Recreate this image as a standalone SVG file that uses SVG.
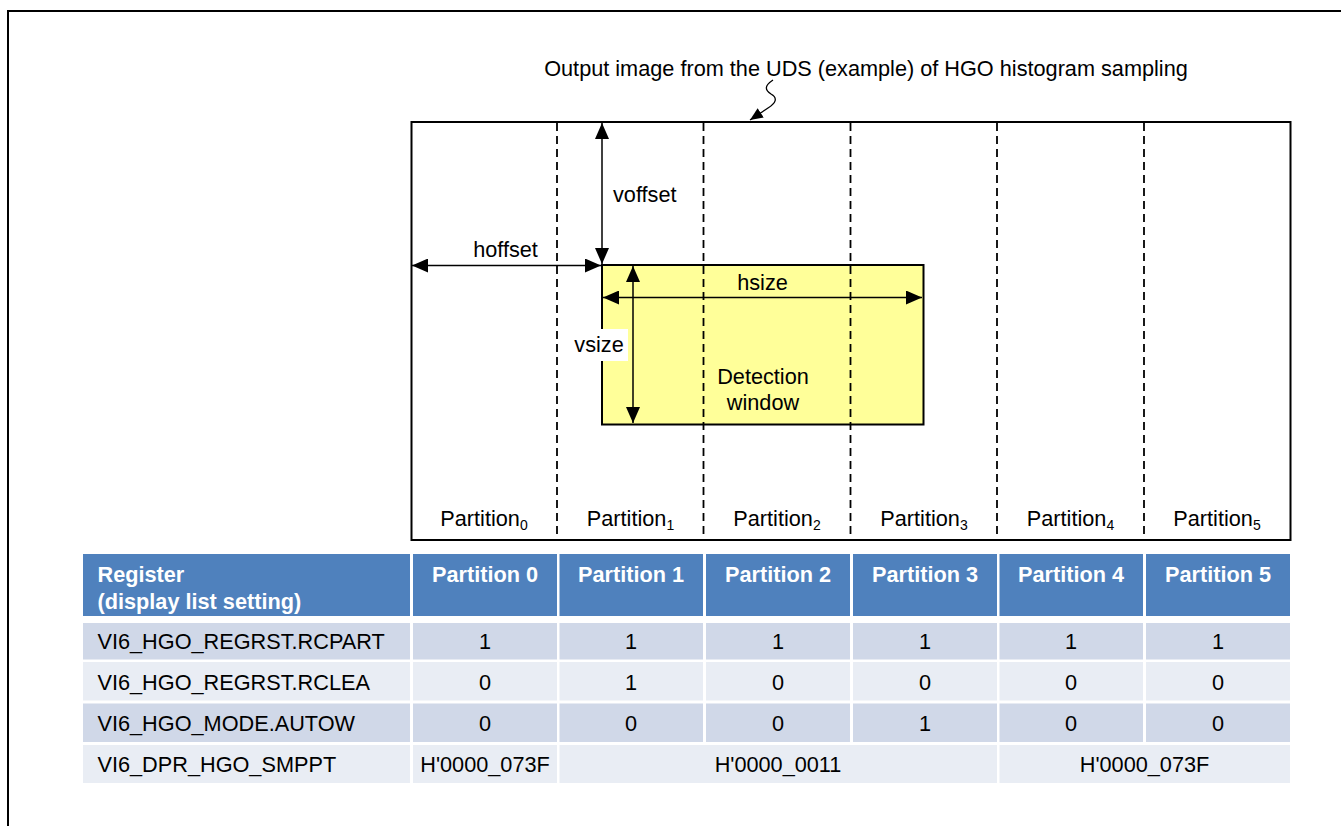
<svg xmlns="http://www.w3.org/2000/svg" width="1341" height="826" viewBox="0 0 1341 826">
<style>
text{font-family:"Liberation Sans",Arial,sans-serif;font-size:21.7px;fill:#000}
.b{font-weight:bold;fill:#fff}
.m{text-anchor:middle}
.dash{stroke:#000;stroke-width:1.8;stroke-dasharray:8,5;fill:none}
.arr{stroke:#000;stroke-width:1.5;fill:none;marker-start:url(#ah);marker-end:url(#ah)}
.hd{fill:#4F81BD}
.r1{fill:#D0D8E8}
.r2{fill:#E9EDF4}
.sub{font-size:14px}
</style>
<defs>
<marker id="ah" viewBox="0 0 16 14" refX="16" refY="7" markerWidth="16" markerHeight="14" markerUnits="userSpaceOnUse" orient="auto-start-reverse">
<path d="M0,0 L16,7 L0,14 Z" fill="#000"/>
</marker>
<marker id="ah2" viewBox="0 0 14 12" refX="14" refY="6" markerWidth="13" markerHeight="11" markerUnits="userSpaceOnUse" orient="auto">
<path d="M0,0 L14,6 L0,12 Z" fill="#000"/>
</marker>
</defs>
<rect width="1341" height="826" fill="#fff"/>
<path d="M8,826 V11 H1341" fill="none" stroke="#000" stroke-width="2"/>

<g id="title">
<text x="866" y="76" class="m">Output image from the UDS (example) of HGO histogram sampling</text>
</g>

<g id="image">
<rect x="411.5" y="122" width="879" height="418" fill="#fff" stroke="#000" stroke-width="2"/>
</g>

<g id="detection-window">
<rect x="602" y="265" width="321.5" height="159.5" fill="#FFFF99" stroke="#000" stroke-width="2"/>
<text x="763" y="384" class="m">Detection</text>
<text x="763" y="410" class="m">window</text>
</g>

<g id="partition-lines">
<line x1="557" y1="123" x2="557" y2="539" class="dash"/>
<line x1="703.5" y1="123" x2="703.5" y2="539" class="dash"/>
<line x1="850.5" y1="123" x2="850.5" y2="539" class="dash"/>
<line x1="997" y1="123" x2="997" y2="539" class="dash"/>
<line x1="1144" y1="123" x2="1144" y2="539" class="dash"/>
</g>

<g id="connectors">
<path d="M773,80 C764,86 765,90 771,94 C778,98 776,103 768,108 L750,120" fill="none" stroke="#000" stroke-width="1.3" marker-end="url(#ah2)"/>
<line x1="602" y1="123" x2="602" y2="264" class="arr"/>
<line x1="412" y1="265.5" x2="601" y2="265.5" class="arr"/>
<line x1="603" y1="297.5" x2="922" y2="297.5" class="arr"/>
<line x1="633" y1="266" x2="633" y2="423" class="arr"/>
</g>

<g id="labels">
<text x="613" y="202">voffset</text>
<text x="505.5" y="257" class="m">hoffset</text>
<text x="762.5" y="289.5" class="m">hsize</text>
<rect x="572" y="329" width="56" height="32" fill="#fff"/>
<text x="599" y="352" class="m">vsize</text>
</g>

<g id="partition-labels">
<text x="484" y="526" class="m">Partition<tspan class="sub" dy="4">0</tspan></text>
<text x="630.5" y="526" class="m">Partition<tspan class="sub" dy="4">1</tspan></text>
<text x="777" y="526" class="m">Partition<tspan class="sub" dy="4">2</tspan></text>
<text x="924" y="526" class="m">Partition<tspan class="sub" dy="4">3</tspan></text>
<text x="1070.5" y="526" class="m">Partition<tspan class="sub" dy="4">4</tspan></text>
<text x="1217" y="526" class="m">Partition<tspan class="sub" dy="4">5</tspan></text>
</g>

<g id="table">
<g id="header">
<rect x="83" y="554" width="327" height="62" class="hd"/>
<rect x="413" y="554" width="144" height="62" class="hd"/>
<rect x="559.5" y="554" width="143.5" height="62" class="hd"/>
<rect x="706" y="554" width="144" height="62" class="hd"/>
<rect x="853" y="554" width="144" height="62" class="hd"/>
<rect x="999.5" y="554" width="143.5" height="62" class="hd"/>
<rect x="1146" y="554" width="144" height="62" class="hd"/>
<text x="97.5" y="582" class="b">Register</text>
<text x="97.5" y="609" class="b">(display list setting)</text>
<text x="485" y="582" class="b m">Partition 0</text>
<text x="631" y="582" class="b m">Partition 1</text>
<text x="778" y="582" class="b m">Partition 2</text>
<text x="925" y="582" class="b m">Partition 3</text>
<text x="1071" y="582" class="b m">Partition 4</text>
<text x="1218" y="582" class="b m">Partition 5</text>
</g>
<g id="row-rcpart">
<rect x="83" y="623" width="327" height="36.5" class="r1"/>
<rect x="413" y="623" width="144" height="36.5" class="r1"/>
<rect x="559.5" y="623" width="143.5" height="36.5" class="r1"/>
<rect x="706" y="623" width="144" height="36.5" class="r1"/>
<rect x="853" y="623" width="144" height="36.5" class="r1"/>
<rect x="999.5" y="623" width="143.5" height="36.5" class="r1"/>
<rect x="1146" y="623" width="144" height="36.5" class="r1"/>
<text x="97.5" y="649">VI6_HGO_REGRST.RCPART</text>
<text x="485" y="649" class="m">1</text>
<text x="631" y="649" class="m">1</text>
<text x="778" y="649" class="m">1</text>
<text x="925" y="649" class="m">1</text>
<text x="1071" y="649" class="m">1</text>
<text x="1218" y="649" class="m">1</text>
</g>
<g id="row-rclea">
<rect x="83" y="662" width="327" height="38.5" class="r2"/>
<rect x="413" y="662" width="144" height="38.5" class="r2"/>
<rect x="559.5" y="662" width="143.5" height="38.5" class="r2"/>
<rect x="706" y="662" width="144" height="38.5" class="r2"/>
<rect x="853" y="662" width="144" height="38.5" class="r2"/>
<rect x="999.5" y="662" width="143.5" height="38.5" class="r2"/>
<rect x="1146" y="662" width="144" height="38.5" class="r2"/>
<text x="97.5" y="690">VI6_HGO_REGRST.RCLEA</text>
<text x="485" y="690" class="m">0</text>
<text x="631" y="690" class="m">1</text>
<text x="778" y="690" class="m">0</text>
<text x="925" y="690" class="m">0</text>
<text x="1071" y="690" class="m">0</text>
<text x="1218" y="690" class="m">0</text>
</g>
<g id="row-autow">
<rect x="83" y="703.5" width="327" height="38.5" class="r1"/>
<rect x="413" y="703.5" width="144" height="38.5" class="r1"/>
<rect x="559.5" y="703.5" width="143.5" height="38.5" class="r1"/>
<rect x="706" y="703.5" width="144" height="38.5" class="r1"/>
<rect x="853" y="703.5" width="144" height="38.5" class="r1"/>
<rect x="999.5" y="703.5" width="143.5" height="38.5" class="r1"/>
<rect x="1146" y="703.5" width="144" height="38.5" class="r1"/>
<text x="97.5" y="731">VI6_HGO_MODE.AUTOW</text>
<text x="485" y="731" class="m">0</text>
<text x="631" y="731" class="m">0</text>
<text x="778" y="731" class="m">0</text>
<text x="925" y="731" class="m">1</text>
<text x="1071" y="731" class="m">0</text>
<text x="1218" y="731" class="m">0</text>
</g>
<g id="row-smppt">
<rect x="83" y="745" width="327" height="38" class="r2"/>
<rect x="413" y="745" width="144" height="38" class="r2"/>
<rect x="559.5" y="745" width="437.5" height="38" class="r2"/>
<rect x="999.5" y="745" width="290.5" height="38" class="r2"/>
<text x="97.5" y="772">VI6_DPR_HGO_SMPPT</text>
<text x="485" y="772" class="m">H'0000_073F</text>
<text x="778" y="772" class="m">H'0000_0011</text>
<text x="1144.5" y="772" class="m">H'0000_073F</text>
</g>
</g>
</svg>
